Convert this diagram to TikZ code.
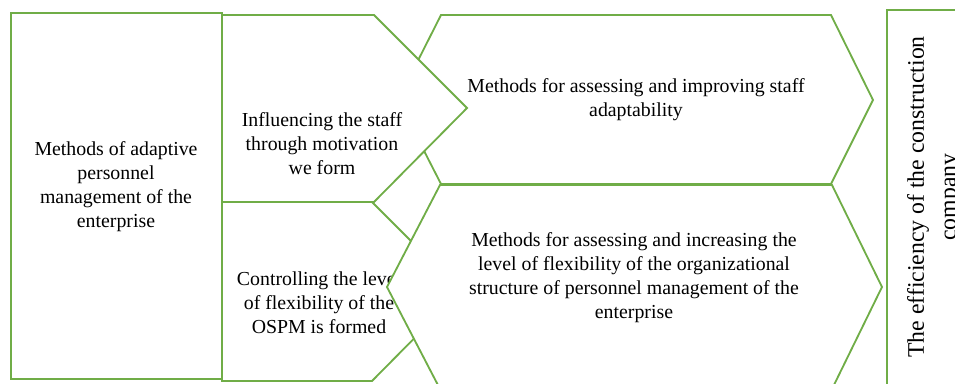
\documentclass[tikz,border=0pt]{standalone}
\usepackage{fontspec}
\setmainfont{Liberation Serif}
\definecolor{boxgreen}{RGB}{112,173,71}

\begin{document}
\begin{tikzpicture}[x=0.025cm,y=-0.025cm,
    panel/.style={draw=boxgreen,fill=white,line width=1.3pt},
    caption/.style={align=center,inner sep=0pt,font=\fontsize{14.1}{17.1}\selectfont}]

  % page frame
  \useasboundingbox (0,0) rectangle (955,383);
  \clip (0,0) rectangle (955,383);

  % upper row of arrows
  \path[panel] (441,15) -- (831,15) -- (873,100) -- (831,184) -- (441,184) -- (398,100) -- cycle;
  \path[panel] (222,15) -- (374,15) -- (467,108) -- (374,202) -- (222,202) -- cycle;
  \node[caption] (motiv) at (322,144) {Influencing the staff\\through motivation\\we form};
  \node[caption] (adapt) at (636,100) {Methods for assessing and improving staff\\adaptability};

  % lower row of arrows
  \path[panel] (222,202) -- (372,202) -- (461,291) -- (372,381) -- (222,381) -- cycle;
  \node[caption] (control) at (319,303) {Controlling the level\\of flexibility of the\\OSPM is formed};
  \path[panel] (440,185) -- (832,185) -- (882,287) -- (832,389) -- (440,389) -- (387,287) -- cycle;
  \node[caption] (flex) at (634,278) {Methods for assessing and increasing the\\level of flexibility of the organizational\\structure of personnel management of the\\enterprise};

  % side boxes
  \path[panel] (11,13) rectangle (222,379);
  \node[caption] (methods) at (116,187) {Methods of adaptive\\personnel\\management of the\\enterprise};
  \path[panel] (887,10) rectangle (975,400);
  \node[caption,rotate=90,font=\fontsize{16.9}{22.8}\selectfont] (effic) at (934,197)
    {The efficiency of the construction\\company};

\end{tikzpicture}
\end{document}
